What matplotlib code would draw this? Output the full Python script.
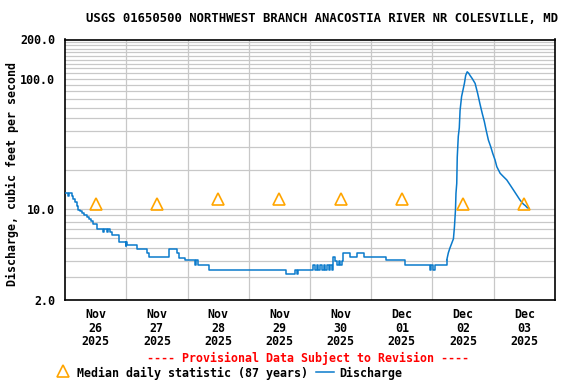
import matplotlib
matplotlib.use("Agg")
import matplotlib.pyplot as plt
from matplotlib.lines import Line2D

# ---- data (hours since 2025-11-26 00:00) ----
hours = [0.0, 1.0, 1.6, 2.6, 3.3, 4.0, 4.6, 5.2, 5.8, 6.6, 7.4, 8.5, 9.3, 10.2, 11.1,
         12.4, 14.9, 15.2, 16.6, 16.9, 17.5, 18.3, 21.3, 23.8, 24.0, 24.3, 28.1, 32.3,
         33.0, 40.8, 43.7, 44.5, 47.2, 50.9, 51.4, 52.0, 56.6, 86.6, 90.1, 90.8, 91.4,
         97.3, 98.0, 98.6, 99.3, 100.0, 100.6, 101.3, 102.0, 102.6, 103.3, 104.0, 104.6,
         105.1, 105.8, 106.5, 107.2, 107.8, 108.5, 109.1, 111.7, 114.5, 117.0, 125.8,
         133.2, 143.0, 143.6, 144.2, 145.0, 149.6, 150.2, 150.8, 151.3, 152.2, 152.6,
         153.0, 153.2, 153.5, 153.7, 154.1, 154.5, 154.8, 155.4, 156.5, 157.0, 157.6,
         158.2, 158.7, 159.6, 160.7, 161.7, 162.6, 163.5, 164.3, 165.0, 165.9, 166.8,
         167.6, 168.5, 169.2, 170.5, 171.8, 173.1, 174.4, 175.7, 177.0, 178.3, 179.6,
         180.4, 181.2, 181.6]
discharge = [13.2, 12.6, 13.2, 12.6, 12.0, 11.3, 10.6, 9.9, 9.6, 9.3, 9.0, 8.7, 8.4, 8.1, 7.6,
             7.0, 6.6, 7.0, 6.6, 7.0, 6.6, 6.3, 5.6, 5.2, 5.6, 5.3, 4.9, 4.6,
             4.3, 4.9, 4.6, 4.2, 4.05, 3.7, 4.05, 3.7, 3.4, 3.15, 3.4, 3.15, 3.4,
             3.7, 3.4, 3.7, 3.4, 3.7, 3.4, 3.7, 3.4, 3.7, 3.4, 3.7, 3.4,
             4.3, 4.0, 3.7, 4.0, 3.7, 4.0, 4.6, 4.3, 4.6, 4.3, 4.05,
             3.7, 3.4, 3.7, 3.4, 3.7, 4.06, 4.6, 5.0, 5.3, 5.9, 7.3,
             9.8, 13.2, 15.7, 25.0, 36.0, 42.0, 57.0, 73.0, 92.0, 106.0, 113.0,
             110.0, 106.0, 100.0, 92.0, 77.0, 64.0, 54.0, 47.0, 40.4, 33.8, 30.1,
             26.7, 23.8, 21.1, 18.8, 17.7, 16.7, 15.3, 14.0, 12.8, 11.7, 10.9,
             10.6, 10.2, 10.2]

# storm hydrograph (rise + recession) is drawn as a continuous line
storm_start_hour = 149.6

median_hours = [12, 36, 60, 84, 108, 132, 156, 180]
median_values = [11, 11, 12, 12, 12, 12, 11, 11]

day_labels = ["Nov\n26\n2025", "Nov\n27\n2025", "Nov\n28\n2025", "Nov\n29\n2025",
              "Nov\n30\n2025", "Dec\n01\n2025", "Dec\n02\n2025", "Dec\n03\n2025"]
ytick_values = [2.0, 10.0, 100.0, 200.0]
ytick_labels = ["2.0", "10.0", "100.0", "200.0"]

title = "USGS 01650500 NORTHWEST BRANCH ANACOSTIA RIVER NR COLESVILLE, MD"

FONT = "DejaVu Sans Mono"
FS = 8.4
W, H = 576, 384
BLUE = "#0a7acb"

fig = plt.figure(figsize=(W / 100, H / 100), dpi=100)
ax = fig.add_axes([65 / W, 1 - 300 / H, (555 - 65) / W, (300 - 39.5) / H])

ax.set_yscale("log")
ax.set_ylim(2, 200)
ax.set_xlim(0, 192)

# grid
minor_levels = [3, 4, 5, 6, 7, 8, 9, 10, 20, 30, 40, 50, 60, 70, 80, 90, 100,
                110, 120, 130, 140, 150, 160, 170, 180, 190]
for lv in minor_levels:
    ax.axhline(lv, color="#c8c8c8", lw=0.9, zorder=1)
for d in range(1, 8):
    ax.axvline(d * 24, color="#c8c8c8", lw=0.9, zorder=1)

k = hours.index(storm_start_hour)
ax.plot(hours[:k + 1], discharge[:k + 1], drawstyle="steps-post",
        color=BLUE, lw=1.1, zorder=3)
ax.plot(hours[k:], discharge[k:], color=BLUE, lw=1.1, zorder=3)
ax.plot(median_hours, median_values, linestyle="none", marker="^", markersize=8,
        markerfacecolor="none", markeredgecolor="#ffa500", markeredgewidth=1.2, zorder=4)

ax.set_yticks(ytick_values)
ax.set_yticklabels(ytick_labels)
ax.yaxis.set_minor_locator(matplotlib.ticker.NullLocator())
ax.set_xticks(median_hours)
ax.set_xticklabels(day_labels, linespacing=1.05)
ax.tick_params(length=0)
ax.tick_params(axis="y", pad=7)
ax.tick_params(axis="x", pad=6)
for lab in ax.get_xticklabels() + ax.get_yticklabels():
    lab.set_fontfamily(FONT)
    lab.set_fontweight("bold")
    lab.set_fontsize(FS)
for s in ax.spines.values():
    s.set_linewidth(1.2)
    s.set_color("black")

fig.text(322 / W, 1 - 19 / H, title, ha="center", va="center",
         fontfamily=FONT, fontweight="bold", fontsize=8.8)
fig.text(12 / W, 1 - 174 / H, "Discharge, cubic feet per second", rotation=90,
         ha="center", va="center", fontfamily=FONT, fontweight="bold", fontsize=FS)
fig.text(308 / W, 1 - 358 / H, "---- Provisional Data Subject to Revision ----",
         ha="center", va="center", fontfamily=FONT, fontweight="bold", fontsize=FS,
         color="#ff0000")

# legend (manual)
fig.add_artist(Line2D([63 / W], [1 - 371 / H], marker="^", markersize=8,
                      markerfacecolor="none", markeredgecolor="#ffa500",
                      markeredgewidth=1.2, linestyle="none", transform=fig.transFigure))
fig.text(77 / W, 1 - 373 / H, "Median daily statistic (87 years)", ha="left",
         va="center", fontfamily=FONT, fontweight="bold", fontsize=FS)
fig.add_artist(Line2D([316 / W, 334 / W], [1 - 372 / H, 1 - 372 / H],
                      color=BLUE, lw=1.1, transform=fig.transFigure))
fig.text(339 / W, 1 - 373 / H, "Discharge", ha="left", va="center",
         fontfamily=FONT, fontweight="bold", fontsize=FS)

fig.savefig("out.png", dpi=100)
